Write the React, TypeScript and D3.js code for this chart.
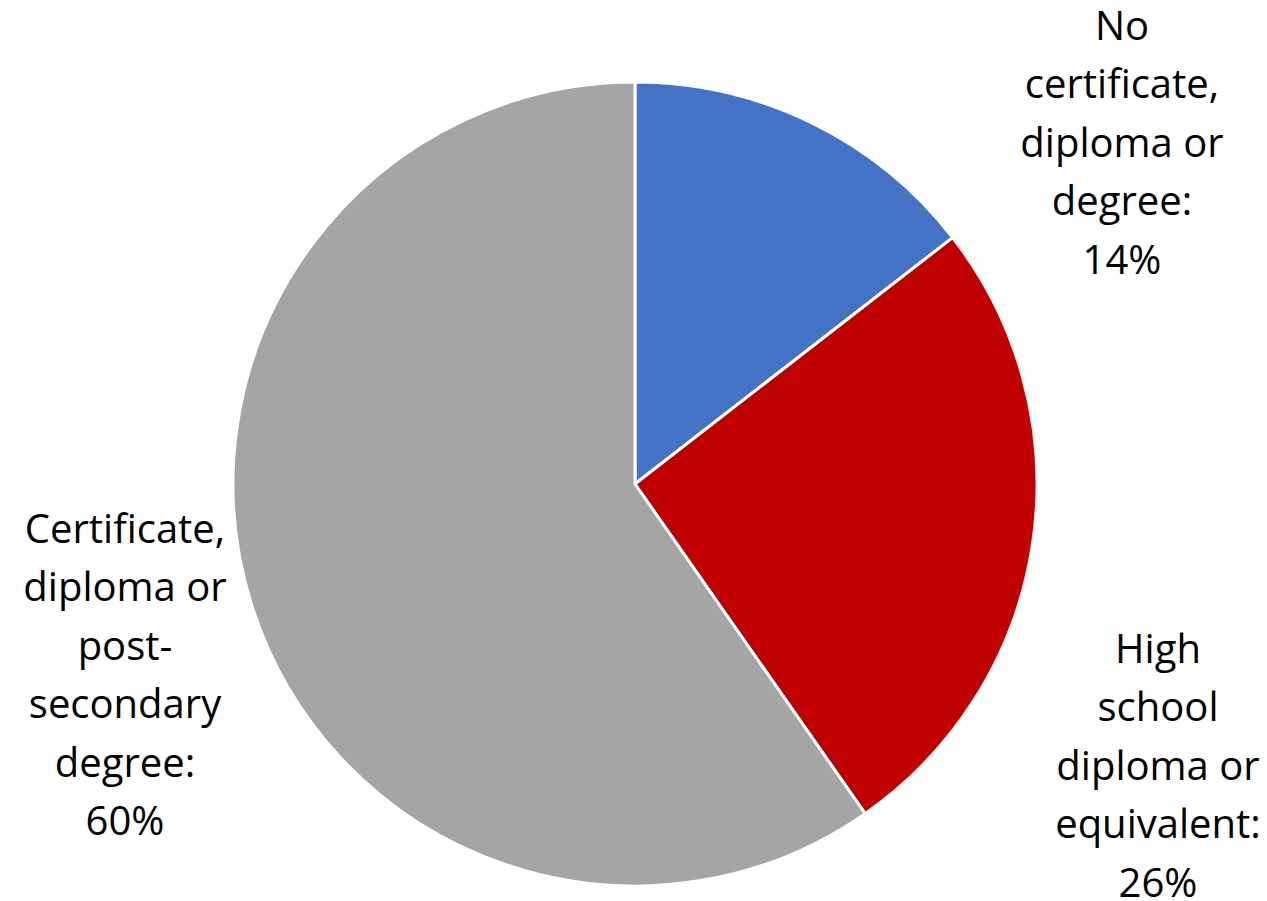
import React from "react";
import * as d3 from "d3";

const categories = [
  "No certificate, diploma or degree",
  "High school diploma or equivalent",
  "Certificate, diploma or post-secondary degree",
];
const values = [14.5, 25.8, 59.7];
const colors = ["#4472C4", "#C00000", "#A5A5A5"];
const labelLines = [
  ["No", "certificate,", "diploma or", "degree:"],
  ["High", "school", "diploma or", "equivalent:"],
  ["Certificate,", "diploma or", "post-", "secondary", "degree:"],
];

const W = 1267;
const H = 901;
const cx = 635;
const cy = 484;
const R = 402;
const labelPos = [
  { x: 1122, y: 40 },
  { x: 1158, y: 663 },
  { x: 125, y: 543 },
];
const lineH = 58.4;

export default function App() {
  const pie = d3.pie<number>().sort(null).value((d) => d);
  const arcs = pie(values);
  const arc = d3.arc<d3.PieArcDatum<number>>().innerRadius(0).outerRadius(R);
  const total = d3.sum(values);
  return (
    <svg
      width={W}
      height={H}
      style={{ position: "absolute", left: 0, top: 0, background: "#fff" }}
      fontFamily="'Open Sans', sans-serif"
    >
      <g transform={`translate(${cx},${cy})`}>
        {arcs.map((a, i) => (
          <path
            key={categories[i]}
            d={arc(a) || ""}
            fill={colors[i]}
            stroke="#fff"
            strokeWidth={3}
            strokeLinejoin="round"
          />
        ))}
      </g>
      {labelLines.map((lines, i) => {
        const all = [...lines, `${Math.round((values[i] / total) * 100)}%`];
        return (
          <text
            key={i}
            x={labelPos[i].x}
            y={labelPos[i].y}
            textAnchor="middle"
            fontSize={40}
            fill="#000"
          >
            {all.map((l, j) => (
              <tspan key={j} x={labelPos[i].x} y={labelPos[i].y + j * lineH}>
                {l}
              </tspan>
            ))}
          </text>
        );
      })}
    </svg>
  );
}
